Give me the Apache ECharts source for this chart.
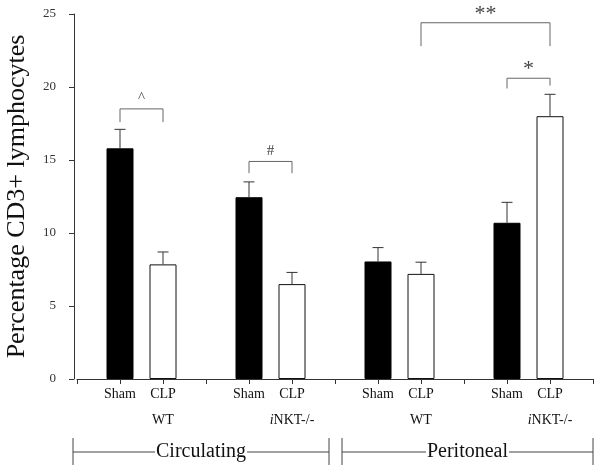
<!DOCTYPE html>
<html><head><meta charset="utf-8">
<script src="https://cdn.jsdelivr.net/npm/echarts@6/dist/echarts.min.js"></script>
<style>html,body{margin:0;padding:0;background:#fff}#c{width:602px;height:473px}</style>
</head><body><div id="c"></div>
<script>
// category slots: gaps at 0,3,6,9,12
const categories = ['', 'Sham', 'CLP', '', 'Sham', 'CLP', '', 'Sham', 'CLP', '', 'Sham', 'CLP', ''];
const barValues = [null, 15.8, 7.85, null, 12.45, 6.5, null, 8.05, 7.2, null, 10.7, 18.0, null];
const errValues = [null, 1.3, 0.85, null, 1.05, 0.8, null, 0.95, 0.8, null, 1.4, 1.5, null];
const barKinds = [null, 'sham', 'clp', null, 'sham', 'clp', null, 'sham', 'clp', null, 'sham', 'clp', null];
const yTicks = [0, 5, 10, 15, 20, 25];
// significance brackets: [fromIdx, toIdx, leftLegBottom, rightLegBottom, top, label]
const bracketFrom = [1, 4, 8, 10];
const bracketTo = [2, 5, 11, 11];
const bracketLeftEnd = [17.6, 14.1, 22.8, 19.9];
const bracketRightEnd = [17.6, 14.1, 22.8, 20.1];
const bracketTop = [18.5, 14.9, 24.4, 20.6];
const bracketLabels = ['^', '#', '**', '*'];
const genotypeLabels = ['WT', 'iNKT-/-', 'WT', 'iNKT-/-'];
const groupLabels = ['Circulating', 'Peritoneal'];

const serif = '"Liberation Serif","Times New Roman",serif';
const chart = echarts.init(document.getElementById('c'));

const barData = barValues.map((v, i) => v == null ? '-' : {
  value: v,
  itemStyle: barKinds[i] === 'sham'
    ? { color: '#000', borderColor: '#000', borderWidth: 1 }
    : { color: '#fff', borderColor: '#111', borderWidth: 1 }
});
const errData = [];
barValues.forEach((v, i) => { if (v != null) errData.push([i, v, v + errValues[i]]); });
const brData = bracketFrom.map((f, k) => [f, bracketTo[k], bracketLeftEnd[k], bracketRightEnd[k], bracketTop[k], k]);

chart.setOption({
  animation: false,
  grid: { left: 77, right: 9, top: 14, bottom: 94, containLabel: false, outerBoundsMode: 'none' },
  xAxis: {
    type: 'category', data: categories, boundaryGap: false,
    axisLine: { lineStyle: { color: '#333', width: 1 } },
    axisTick: { show: true, length: 5, lineStyle: { color: '#333' }, alignWithLabel: true },
    axisLabel: { interval: 0, color: '#111', fontFamily: serif, fontSize: 14, margin: 8 },
    splitLine: { show: false }
  },
  yAxis: {
    type: 'value', min: 0, max: 25, interval: 5, offset: 3,
    axisLine: { show: true, lineStyle: { color: '#333' } },
    axisTick: { show: true, length: 5, lineStyle: { color: '#333' } },
    axisLabel: { color: '#333', fontFamily: serif, fontSize: 13, margin: 18,
      formatter: v => yTicks.includes(v) ? String(v) : '' },
    splitLine: { show: false },
    name: 'Percentage CD3+ lymphocytes', nameLocation: 'middle', nameGap: 44,
    nameTextStyle: { fontFamily: serif, fontSize: 26, color: '#111' }
  },
  series: [
    { type: 'bar', data: barData, barWidth: 27, z: 2 },
    {
      type: 'custom', data: errData, z: 3,
      renderItem: (params, api) => {
        const b = api.coord([api.value(0), api.value(1)]);
        const t = api.coord([api.value(0), api.value(2)]);
        const st = { stroke: '#333', lineWidth: 1 };
        return { type: 'group', children: [
          { type: 'line', shape: { x1: b[0], y1: b[1], x2: t[0], y2: t[1] }, style: st },
          { type: 'line', shape: { x1: t[0] - 5.5, y1: t[1], x2: t[0] + 5.5, y2: t[1] }, style: st }
        ]};
      }
    },
    {
      type: 'custom', data: brData, z: 4,
      renderItem: (params, api) => {
        const l0 = api.coord([api.value(0), api.value(2)]);
        const lt = api.coord([api.value(0), api.value(4)]);
        const r0 = api.coord([api.value(1), api.value(3)]);
        const rt = api.coord([api.value(1), api.value(4)]);
        const lab = bracketLabels[api.value(5)];
        const big = lab.indexOf('*') >= 0;
        return { type: 'group', children: [
          { type: 'polyline', shape: { points: [l0, lt, rt, r0] }, style: { stroke: '#666', lineWidth: 1, fill: null } },
          { type: 'text', style: { text: lab, x: (lt[0] + rt[0]) / 2, y: lt[1] + (big ? 2 : -3), align: 'center', verticalAlign: 'bottom',
            fill: '#444', font: (big ? '22px ' : '15px ') + serif } }
        ]};
      }
    }
  ]
});

// annotations below the axis, positioned from axis coordinates
const px = i => chart.convertToPixel({ xAxisIndex: 0 }, i);
const graphics = [];
const genoPos = [1.5, 4.5, 7.5, 10.5];
genoPos.forEach((p, k) => {
  const lab = genotypeLabels[k];
  const isI = lab[0] === 'i';
  graphics.push({ type: 'text', x: px(p), y: 420, style: {
    text: isI ? '{it|i}' + lab.slice(1) : lab, align: 'center', verticalAlign: 'middle',
    font: '14px ' + serif, fill: '#111',
    rich: { it: { fontStyle: 'italic', fontFamily: serif, fontSize: 14, fill: '#111' } } } });
});
const groupSpans = [[73, 329], [342, 593]];
groupSpans.forEach((s, k) => {
  const ln = { stroke: '#444', lineWidth: 1 };
  graphics.push({ type: 'line', shape: { x1: s[0], y1: 438, x2: s[0], y2: 465 }, style: ln });
  graphics.push({ type: 'line', shape: { x1: s[1], y1: 438, x2: s[1], y2: 465 }, style: ln });
  graphics.push({ type: 'line', shape: { x1: s[0], y1: 452, x2: s[1], y2: 452 }, style: ln });
  graphics.push({ type: 'text', x: (s[0] + s[1]) / 2, y: 452, z: 10, style: {
    text: groupLabels[k], align: 'center', verticalAlign: 'middle', font: '20px ' + serif, fill: '#111',
    backgroundColor: '#fff', padding: [0, 1] } });
});
chart.setOption({ graphic: graphics });
</script></body></html>
